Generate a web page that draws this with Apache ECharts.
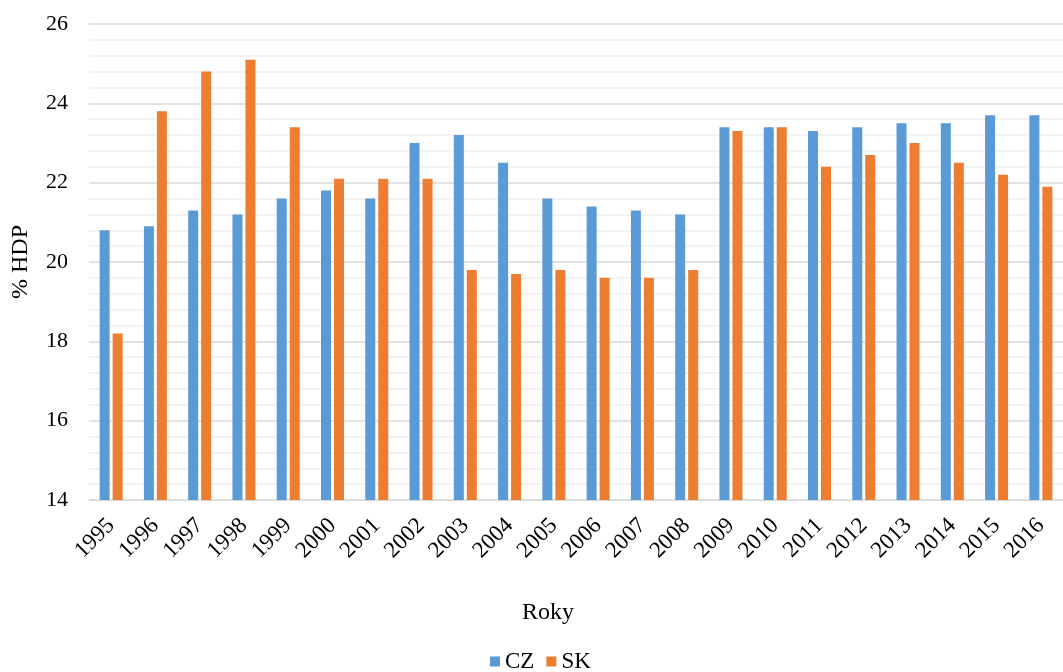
<!DOCTYPE html>
<html>
<head>
<meta charset="utf-8">
<script src="https://cdn.jsdelivr.net/npm/echarts@6/dist/echarts.min.js"></script>
<style>
html,body{margin:0;padding:0;background:#fff;}
#chart{width:1063px;height:672px;}
</style>
</head>
<body>
<div id="chart"></div>
<script>
const years = ['1995','1996','1997','1998','1999','2000','2001','2002','2003','2004','2005','2006','2007','2008','2009','2010','2011','2012','2013','2014','2015','2016'];
const cz = [20.8,20.9,21.3,21.2,21.6,21.8,21.6,23.0,23.2,22.5,21.6,21.4,21.3,21.2,23.4,23.4,23.3,23.4,23.5,23.5,23.7,23.7];
const sk = [18.2,23.8,24.8,25.1,23.4,22.1,22.1,22.1,19.8,19.7,19.8,19.6,19.6,19.8,23.3,23.4,22.4,22.7,23.0,22.5,22.2,21.9];
const seriesNames = ['CZ','SK'];
const yAxisTitle = '% HDP';
const xAxisTitle = 'Roky';

const font = 'Liberation Serif, Times New Roman, serif';
const chart = echarts.init(document.getElementById('chart'), null, {renderer:'canvas'});
chart.setOption({
  animation:false,
  backgroundColor:'#ffffff',
  textStyle:{fontFamily:font},
  grid:{left:89, top:24, width:987, height:476, containLabel:false},
  legend:{
    data:seriesNames,
    left:490, top:650, padding:0,
    itemWidth:10, itemHeight:10, itemGap:12,
    icon:'rect',
    textStyle:{fontFamily:font, fontSize:23, color:'#000'}
  },
  graphic:[{
    type:'text', x:548, y:613,
    style:{text:xAxisTitle, fontFamily:font, fontSize:24, fill:'#000', textAlign:'center', textVerticalAlign:'middle'}
  }],
  xAxis:{
    type:'category', data:years,
    axisTick:{show:false},
    axisLine:{lineStyle:{color:'#D9D9D9', width:1}},
    axisLabel:{rotate:45, fontFamily:font, fontSize:23, color:'#000', margin:22, interval:0}
  },
  yAxis:{
    type:'value', min:14, max:26, interval:2,
    name:yAxisTitle, nameLocation:'middle', nameRotate:90, nameGap:56,
    nameTextStyle:{fontFamily:font, fontSize:24, color:'#000'},
    axisLine:{show:false}, axisTick:{show:false},
    axisLabel:{fontFamily:font, fontSize:22, color:'#000', margin:21},
    splitLine:{lineStyle:{color:'#D9D9D9', width:1.5}},
    minorTick:{show:false, splitNumber:5},
    minorSplitLine:{show:true, lineStyle:{color:'#F0F0F0', width:1.5}}
  },
  series:[
    {name:seriesNames[0], type:'bar', data:cz, barWidth:10, barGap:'30%', itemStyle:{color:'#5B9BD5'}},
    {name:seriesNames[1], type:'bar', data:sk, barWidth:10, barGap:'30%', itemStyle:{color:'#ED7D31'}}
  ]
});
</script>
</body>
</html>
